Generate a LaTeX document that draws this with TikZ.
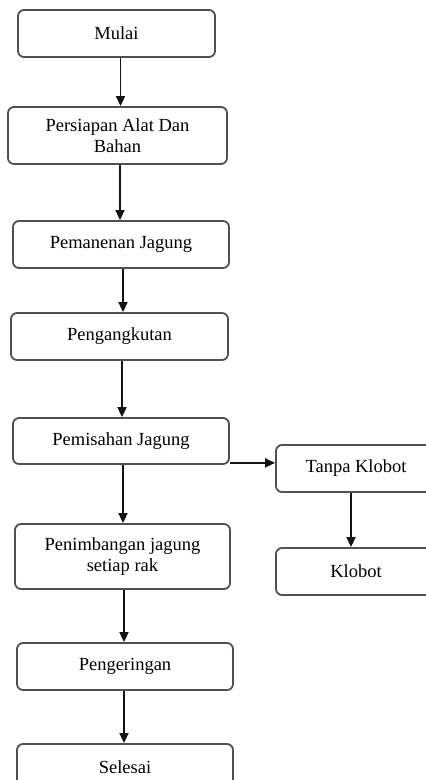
\documentclass[tikz,border=0pt]{standalone}
\usepackage{fontspec}
\setmainfont{Liberation Serif}
\usepackage{xcolor}
\usepackage{tikz}
\usetikzlibrary{positioning, arrows.meta}
\definecolor{BoxGray}{RGB}{80,80,80}
\definecolor{FlowBlack}{RGB}{20,20,20}

\begin{document}
\begin{tikzpicture}[x=1pt,y=1pt]
      \tikzset{pb/.style={draw=BoxGray, line width=1.8pt, rounded corners=6pt, minimum height=47pt,
        align=center, font=\fontsize{18.5}{21.5}\selectfont, inner sep=2pt},
        fl/.style={draw=FlowBlack, line width=1.6pt, -{Triangle[length=10pt,width=9pt]}}}
      \useasboundingbox (0,0) rectangle (426,-780);
      \clip (0,0) rectangle (426,-780);
      % main column
      \node[pb, minimum width=197pt] (mulai) at (116.5,-33.5) {Mulai};
      \node[pb, minimum width=219pt, minimum height=57pt] (persiapan) at (117.5,-135.5) {Persiapan Alat Dan\\Bahan};
      \node[pb, minimum width=216pt] (panen) at (121,-244.5) {Pemanenan Jagung};
      \node[pb, minimum width=217pt] (angkut) at (119.5,-336.5) {Pengangkutan};
      \node[pb, minimum width=216pt, minimum height=46pt] (pisah) at (121,-441) {Pemisahan Jagung};
      \node[pb, minimum width=215pt, minimum height=65pt] (timbang) at (122.5,-556.5) {Penimbangan jagung\\setiap rak};
      \node[pb, minimum width=216pt] (kering) at (125,-666.5) {Pengeringan};
      \node[pb, minimum width=216pt] (selesai) at (125,-767.5) {Selesai};
      % side branch
      \node[pb, minimum width=160pt] (tanpa) at (356,-468.5) {Tanpa Klobot};
      \node[pb, minimum width=160pt] (klobot) at (356,-571.5) {Klobot};
      % arrows
      \draw[fl] ([xshift=4pt]mulai.south) -- ([xshift=4pt]mulai.south |- persiapan.north);
      \draw[fl] ([xshift=2.5pt]persiapan.south) -- ([xshift=2.5pt]persiapan.south |- panen.north);
      \draw[fl] ([xshift=2pt]panen.south) -- ([xshift=2pt]panen.south |- angkut.north);
      \draw[fl] ([xshift=2.5pt]angkut.south) -- ([xshift=2.5pt]angkut.south |- pisah.north);
      \draw[fl] ([xshift=2pt]pisah.south) -- ([xshift=2pt]pisah.south |- timbang.north);
      \draw[fl] ([xshift=1.5pt]timbang.south) -- ([xshift=1.5pt]timbang.south |- kering.north);
      \draw[fl] ([xshift=-1pt]kering.south) -- ([xshift=-1pt]kering.south |- selesai.north);
      \draw[fl] ([yshift=2pt]pisah.south east) -- ([yshift=2pt]pisah.south east -| tanpa.west);
      \draw[fl] ([xshift=-5pt]tanpa.south) -- ([xshift=-5pt]tanpa.south |- klobot.north);
    \end{tikzpicture}
\end{document}
